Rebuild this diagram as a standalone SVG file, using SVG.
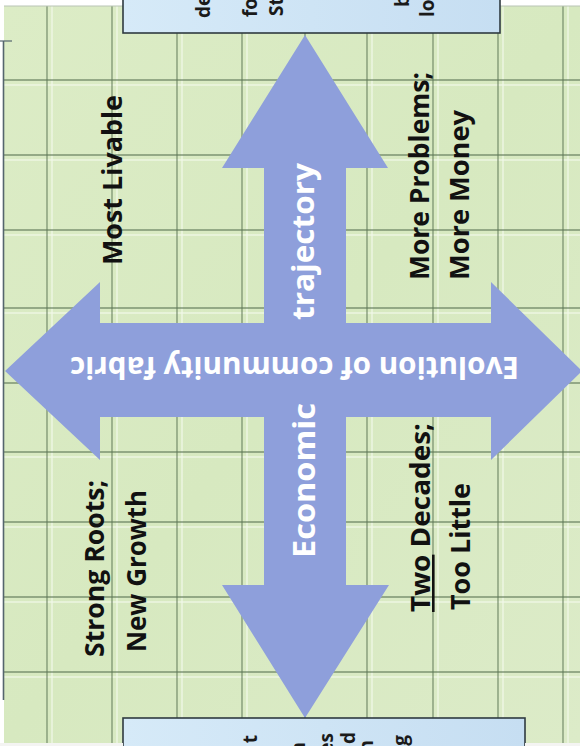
<svg xmlns="http://www.w3.org/2000/svg" width="580" height="746" viewBox="0 0 580 746">
  <defs>
    <linearGradient id="boxFill" x1="0" y1="0" x2="1" y2="0">
      <stop offset="0" stop-color="#d6eaf8"/>
      <stop offset="1" stop-color="#c6def2"/>
    </linearGradient>
    <linearGradient id="bgFill" x1="0" y1="0" x2="1" y2="1">
      <stop offset="0" stop-color="#dcecc6"/>
      <stop offset="0.5" stop-color="#d7e9c0"/>
      <stop offset="1" stop-color="#dcebc8"/>
    </linearGradient>
  </defs>
  <style>
    .grid { stroke: #5d7656; stroke-width: 1.3; stroke-opacity: 0.75; }
    .gridlite { stroke: #f2f8ea; stroke-width: 2; stroke-opacity: 0.6; }
    .arrow { fill: #8e9fdb; }
    .box { fill: url(#boxFill); stroke: #2f3a40; stroke-width: 1.6; }
    .lbl { font-family: "Open Sans", "Liberation Sans", sans-serif; font-weight: 700; font-size: 26px; fill: #111; }
    .wlbl { font-family: "Open Sans", "Liberation Sans", sans-serif; font-weight: 700; font-size: 30px; fill: #ffffff; }
    .frag { font-family: "Open Sans", "Liberation Sans", sans-serif; font-weight: 700; font-size: 19px; fill: #1a1a1a; }
  </style>

  <g id="background">
    <rect x="0" y="0" width="580" height="746" fill="#ffffff"/>
    <rect x="4" y="6" width="576" height="737" fill="url(#bgFill)"/>
    <g class="gridlite">
      <line x1="52" y1="6" x2="52" y2="743"/>
      <line x1="117" y1="6" x2="117" y2="743"/>
      <line x1="182" y1="6" x2="182" y2="743"/>
      <line x1="247" y1="6" x2="247" y2="743"/>
      <line x1="372" y1="6" x2="372" y2="743"/>
      <line x1="438" y1="6" x2="438" y2="743"/>
      <line x1="503" y1="6" x2="503" y2="743"/>
      <line x1="568" y1="6" x2="568" y2="743"/>
      <line x1="4" y1="85" x2="580" y2="85"/>
      <line x1="4" y1="160" x2="580" y2="160"/>
      <line x1="4" y1="235" x2="580" y2="235"/>
      <line x1="4" y1="313" x2="580" y2="313"/>
      <line x1="4" y1="457" x2="580" y2="457"/>
      <line x1="4" y1="527" x2="580" y2="527"/>
      <line x1="4" y1="602" x2="580" y2="602"/>
      <line x1="4" y1="677" x2="580" y2="677"/>
    </g>
    <g class="grid">
      <line x1="47" y1="6" x2="47" y2="743"/>
      <line x1="112" y1="6" x2="112" y2="743"/>
      <line x1="177" y1="6" x2="177" y2="743"/>
      <line x1="242" y1="6" x2="242" y2="743"/>
      <line x1="305" y1="6" x2="305" y2="743"/>
      <line x1="367" y1="6" x2="367" y2="743"/>
      <line x1="433" y1="6" x2="433" y2="743"/>
      <line x1="498" y1="6" x2="498" y2="743"/>
      <line x1="563" y1="6" x2="563" y2="743"/>
      <line x1="4" y1="80" x2="580" y2="80"/>
      <line x1="4" y1="155" x2="580" y2="155"/>
      <line x1="4" y1="230" x2="580" y2="230"/>
      <line x1="4" y1="308" x2="580" y2="308"/>
      <line x1="4" y1="383" x2="580" y2="383"/>
      <line x1="4" y1="452" x2="580" y2="452"/>
      <line x1="4" y1="522" x2="580" y2="522"/>
      <line x1="4" y1="597" x2="580" y2="597"/>
      <line x1="4" y1="672" x2="580" y2="672"/>
    </g>
    <line x1="3.5" y1="41" x2="3.5" y2="700" stroke="#55656d" stroke-width="1.6"/>
    <line x1="0" y1="41" x2="12" y2="41" stroke="#55656d" stroke-width="1.2"/>
    <line x1="4" y1="6" x2="580" y2="6" stroke="#b9c4b5" stroke-width="1"/>
  </g>

  <g id="connectors">
    <polygon id="cross-arrow" class="arrow" points="305,35 388,168 346,168 346,323 491,323 491,282 582,371 491,460 491,417 346,417 346,585 389,585 305,718 222,585 264,585 264,417 100,417 100,460 5,371 100,282 100,323 264,323 264,168 222,168"/>
    <text class="wlbl" transform="translate(294.5,357) rotate(180)" text-anchor="middle" textLength="449" lengthAdjust="spacingAndGlyphs" font-size="29">Evolution of community fabric</text>
    <text class="wlbl" transform="translate(315,558) rotate(-90)" textLength="155" lengthAdjust="spacingAndGlyphs">Economic</text>
    <text class="wlbl" transform="translate(314,320) rotate(-90)" textLength="157" lengthAdjust="spacingAndGlyphs">trajectory</text>
  </g>

  <g id="top-box">
    <rect class="box" x="123" y="-20" width="377" height="53"/>
    <text class="frag" transform="translate(210,18) rotate(-90)">de</text>
    <text class="frag" transform="translate(257,17) rotate(-90)">fo</text>
    <text class="frag" transform="translate(283,16) rotate(-90)">St</text>
    <text class="frag" transform="translate(409,7) rotate(-90)">b</text>
    <text class="frag" transform="translate(434,17) rotate(-90)">lo</text>
  </g>

  <g id="bottom-box">
    <rect class="box" x="123" y="718" width="402" height="50"/>
    <text class="frag" transform="translate(257,735) rotate(-90)" text-anchor="end">t</text>
    <text class="frag" transform="translate(305,742) rotate(-90)" text-anchor="end">n</text>
    <text class="frag" transform="translate(333,733) rotate(-90)" text-anchor="end">es</text>
    <text class="frag" transform="translate(355,732) rotate(-90)" text-anchor="end">d</text>
    <text class="frag" transform="translate(373,740) rotate(-90)" text-anchor="end">n</text>
    <text class="frag" transform="translate(407,735) rotate(-90)" text-anchor="end">g</text>
  </g>

  <g id="most-livable">
    <text class="lbl" transform="translate(122,265) rotate(-90)" textLength="170" lengthAdjust="spacingAndGlyphs">Most Livable</text>
  </g>
  <g id="more-problems">
    <text class="lbl" transform="translate(429,280) rotate(-90)" textLength="208" lengthAdjust="spacingAndGlyphs">More Problems;</text>
    <text class="lbl" transform="translate(469,280) rotate(-90)" textLength="170" lengthAdjust="spacingAndGlyphs">More Money</text>
  </g>
  <g id="strong-roots">
    <text class="lbl" transform="translate(104,657) rotate(-90)" textLength="177" lengthAdjust="spacingAndGlyphs">Strong Roots;</text>
    <text class="lbl" transform="translate(146,652) rotate(-90)" textLength="162" lengthAdjust="spacingAndGlyphs">New Growth</text>
  </g>
  <g id="two-decades">
    <text class="lbl" transform="translate(430,612) rotate(-90)" textLength="189" lengthAdjust="spacingAndGlyphs"><tspan text-decoration="underline">Two</tspan> Decades;</text>
    <text class="lbl" transform="translate(470,610) rotate(-90)" textLength="127" lengthAdjust="spacingAndGlyphs">Too Little</text>
  </g>

  <g id="edges">
    <rect x="0" y="743" width="123" height="3" fill="#f4f4f2"/>
    <rect x="525" y="743" width="55" height="3" fill="#f4f4f2"/>
  </g>
</svg>
